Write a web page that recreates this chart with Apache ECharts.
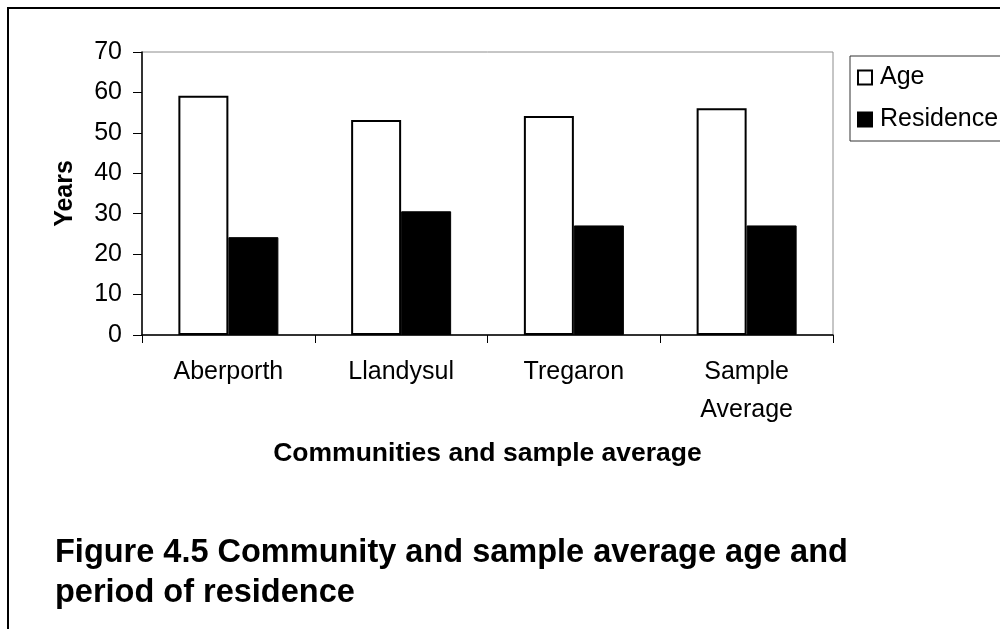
<!DOCTYPE html>
<html>
<head>
<meta charset="utf-8">
<script src="https://cdn.jsdelivr.net/npm/echarts@6/dist/echarts.min.js"></script>
<style>
  html, body { margin: 0; padding: 0; background: #fff; }
  #chart { width: 1000px; height: 629px; }
</style>
</head>
<body>
<div id="chart"></div>
<script>
// Communities surveyed plus the overall sample
const categories = ['Aberporth', 'Llandysul', 'Tregaron', 'Sample\nAverage'];
// Mean age of respondents (years)
const ageValues = [59.2, 53.2, 54.2, 56.1];
// Mean period of residence (years)
const residenceValues = [24.2, 30.6, 27.1, 27.1];
// Value axis ticks
const yTicks = [0, 10, 20, 30, 40, 50, 60, 70];

const FONT = '"Liberation Sans", Arial, sans-serif';

const chart = echarts.init(document.getElementById('chart'), null, { renderer: 'canvas' });

chart.setOption({
  animation: false,
  backgroundColor: '#ffffff',
  textStyle: { fontFamily: FONT, color: '#000' },
  grid: {
    left: 142, top: 52, right: 167, bottom: 294,
    show: true, borderColor: '#8c8c8c', borderWidth: 1, backgroundColor: '#fff'
  },
  legend: {
    left: 850, top: 56,
    orient: 'vertical',
    padding: [9, 40, 9, 7],
    itemGap: 17,
    itemWidth: 14, itemHeight: 14,
    icon: 'rect',
    borderColor: '#333', borderWidth: 1,
    textStyle: { fontFamily: FONT, fontSize: 25, color: '#000', padding: [0, 0, 0, 3] },
    data: ['Age', 'Residence']
  },
  xAxis: {
    type: 'category',
    data: categories,
    boundaryGap: true,
    axisLine: { lineStyle: { color: '#000', width: 1.5 } },
    axisTick: { show: true, length: 8, lineStyle: { color: '#000', width: 1 } },
    axisLabel: { fontFamily: FONT, fontSize: 25, color: '#000', margin: 18, lineHeight: 38 },
    name: 'Communities and sample average',
    nameLocation: 'middle',
    nameGap: 105,
    nameTextStyle: { fontFamily: FONT, fontSize: 26.5, fontWeight: 'bold', color: '#000' }
  },
  yAxis: {
    type: 'value',
    min: yTicks[0], max: yTicks[yTicks.length - 1], interval: 10,
    axisLine: { show: true, lineStyle: { color: '#000', width: 1.5 } },
    axisTick: { show: true, length: 9, lineStyle: { color: '#000', width: 1 } },
    splitLine: { show: false },
    axisLabel: { fontFamily: FONT, fontSize: 25, color: '#000', margin: 20 },
    name: 'Years',
    nameLocation: 'middle',
    nameGap: 64,
    nameTextStyle: { fontFamily: FONT, fontSize: 25, fontWeight: 'bold', color: '#000' }
  },
  series: [
    {
      name: 'Age',
      type: 'bar',
      data: ageValues,
      barWidth: 50,
      barGap: '0%',
      itemStyle: { color: '#ffffff', borderColor: '#000', borderWidth: 2 }
    },
    {
      name: 'Residence',
      type: 'bar',
      data: residenceValues,
      barWidth: 50,
      barGap: '0%',
      itemStyle: { color: '#000000', borderColor: '#000', borderWidth: 1 }
    }
  ],
  graphic: [
    {
      type: 'rect',
      shape: { x: 8, y: 8, width: 1100, height: 1000 },
      style: { fill: 'none', stroke: '#000', lineWidth: 2 },
      z: -1
    },
    {
      type: 'text',
      left: 55, top: 533,
      style: {
        text: 'Figure 4.5 Community and sample average age and\nperiod of residence',
        font: 'bold 32.5px ' + FONT,
        lineHeight: 40,
        fill: '#000'
      }
    }
  ]
});
</script>
</body>
</html>
